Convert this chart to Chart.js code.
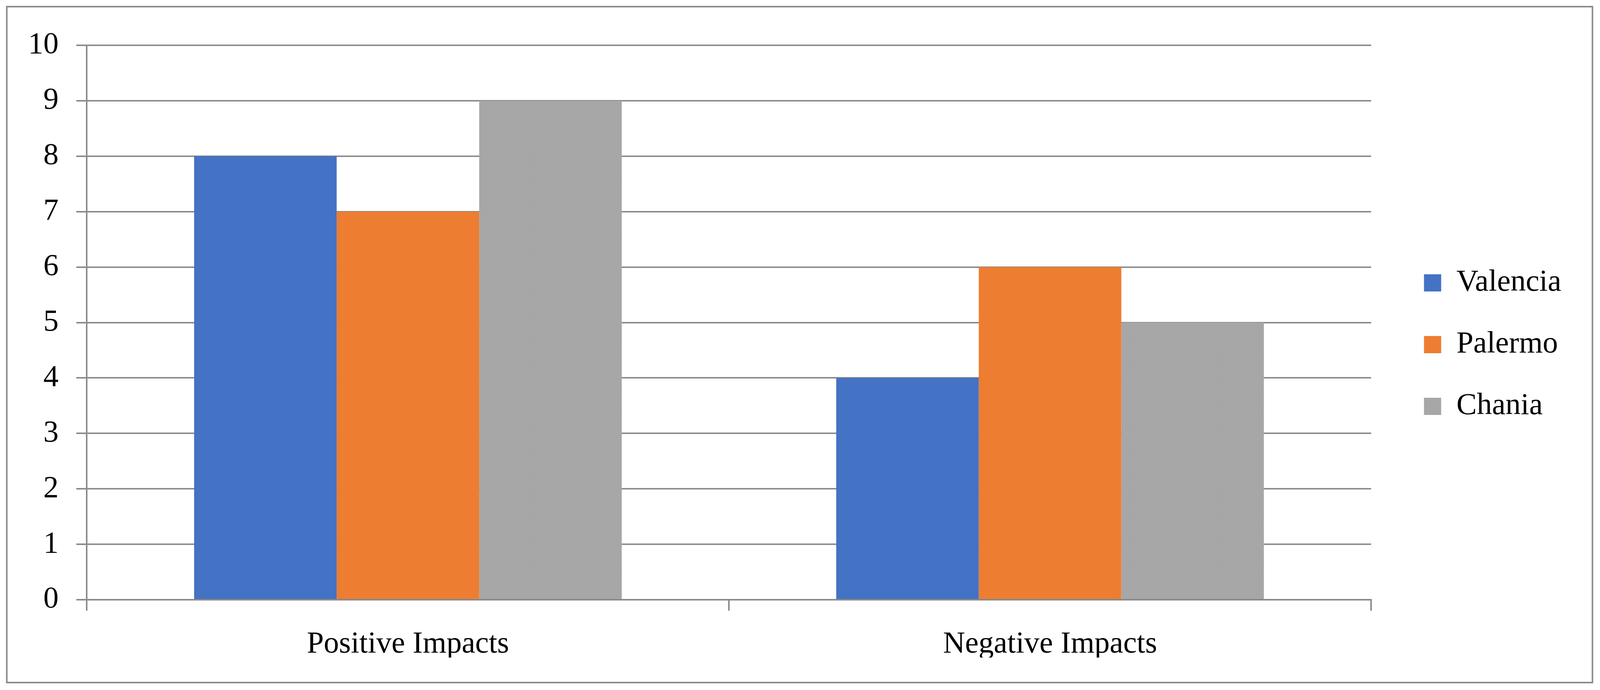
<!DOCTYPE html>
<html>
<head>
<meta charset="utf-8">
<script src="https://cdn.jsdelivr.net/npm/chart.js@4/dist/chart.umd.min.js"></script>
<style>
  html, body { margin: 0; padding: 0; background: #ffffff; overflow: hidden; }
  #wrap { position: fixed; left: 0; top: 0; width: 100vw; height: 100vh; }
  #wrap canvas { display: block; }
</style>
</head>
<body>
<div id="wrap"><canvas id="c"></canvas></div>
<script>
const categories = ["Positive Impacts", "Negative Impacts"];
const seriesNames = ["Valencia", "Palermo", "Chania"];
const valencia = [8, 4];
const palermo = [7, 6];
const chania = [9, 5];
const yTicks = [0, 1, 2, 3, 4, 5, 6, 7, 8, 9, 10];

const wrap = document.getElementById("wrap");
const SX = wrap.clientWidth / 4236;
const SY = wrap.clientHeight / 1766;
const S = Math.min(SX, SY);

const GRID = "#898989";
const FONT = { family: "'Liberation Serif', 'Times New Roman', serif", size: Math.round(81 * S) };
const LEG_PAD = 158 * SY - FONT.size;

function makeTexture() {
  const t = document.createElement("canvas");
  t.width = 4; t.height = 4;
  const g = t.getContext("2d");
  g.fillStyle = "#a9a9a9"; g.fillRect(0, 0, 4, 4);
  g.fillStyle = "#979797";
  g.fillRect(0, 0, 1, 1); g.fillRect(2, 1, 1, 1); g.fillRect(1, 2, 1, 1); g.fillRect(3, 3, 1, 1);
  g.fillStyle = "#b4b4b4";
  g.fillRect(2, 0, 1, 1); g.fillRect(0, 3, 1, 1); g.fillRect(3, 2, 1, 1);
  return document.getElementById("c").getContext("2d").createPattern(t, "repeat");
}
const chaniaFill = makeTexture();

const frame = {
  id: "frame",
  afterInit(chart) {
    const lg = chart.legend;
    if (lg) {
      const origFit = lg.fit;
      lg.fit = function () {
        origFit.call(this);
        this.width = (4236 - 3630) * SX;
      };
    }
  },
  afterLayout(chart) {
    const lg = chart.legend;
    if (!lg) return;
    const boxX = 3770 * SX;
    const firstCenter = 724 * SY;
    const itemH = FONT.size;
    lg.left = boxX - LEG_PAD;
    lg.right = lg.left + 460 * SX;
    lg.top = firstCenter - itemH / 2 - LEG_PAD;
    lg.bottom = lg.top + 700 * SY;
  },
  beforeDraw(chart) {
    const ctx = chart.ctx;
    ctx.save();
    ctx.fillStyle = "#ffffff";
    ctx.fillRect(0, 0, chart.width, chart.height);
    ctx.strokeStyle = GRID;
    ctx.lineWidth = 4 * S;
    ctx.strokeRect(18 * SX, 17 * SY, 4198 * SX, 1730 * SY);
    ctx.restore();
  }
};

new Chart(document.getElementById("c"), {
  type: "bar",
  data: {
    labels: categories,
    datasets: [
      { label: seriesNames[0], data: valencia, backgroundColor: "#4472C4" },
      { label: seriesNames[1], data: palermo, backgroundColor: "#ED7D31" },
      { label: seriesNames[2], data: chania, backgroundColor: chaniaFill }
    ]
  },
  options: {
    responsive: true,
    maintainAspectRatio: false,
    animation: false,
    datasets: { bar: { categoryPercentage: 0.666, barPercentage: 1.0, borderWidth: 0 } },
    layout: { padding: { top: 116 * SY, left: 75 * SX, bottom: 83 * SY, right: 0 } },
    plugins: {
      legend: {
        position: "right",
        align: "start",
        labels: {
          font: FONT,
          color: "#000000",
          boxWidth: Math.round(45 * S),
          boxHeight: Math.round(45 * S),
          padding: LEG_PAD
        }
      },
      tooltip: { enabled: false }
    },
    scales: {
      x: {
        afterFit: (scale) => { scale.height = 148 * SY; },
        grid: { display: true, drawOnChartArea: false, drawTicks: true, tickLength: 28 * SY, color: GRID, lineWidth: 4 * S, offset: true },
        border: { display: true, color: GRID, width: 4 * S },
        ticks: { font: FONT, color: "#000000", padding: 40 * SY, maxRotation: 0 }
      },
      y: {
        min: 0,
        max: 10,
        afterFit: (scale) => { scale.width = 155 * SX; },
        afterBuildTicks: (scale) => { scale.ticks = yTicks.map(v => ({ value: v })); },
        grid: { color: GRID, lineWidth: 4 * S, tickLength: 28 * SX, drawTicks: true },
        border: { display: true, color: GRID, width: 4 * S },
        ticks: { font: FONT, color: "#000000", padding: 47 * SX, stepSize: 1 }
      }
    }
  },
  plugins: [frame]
});
</script>
</body>
</html>
